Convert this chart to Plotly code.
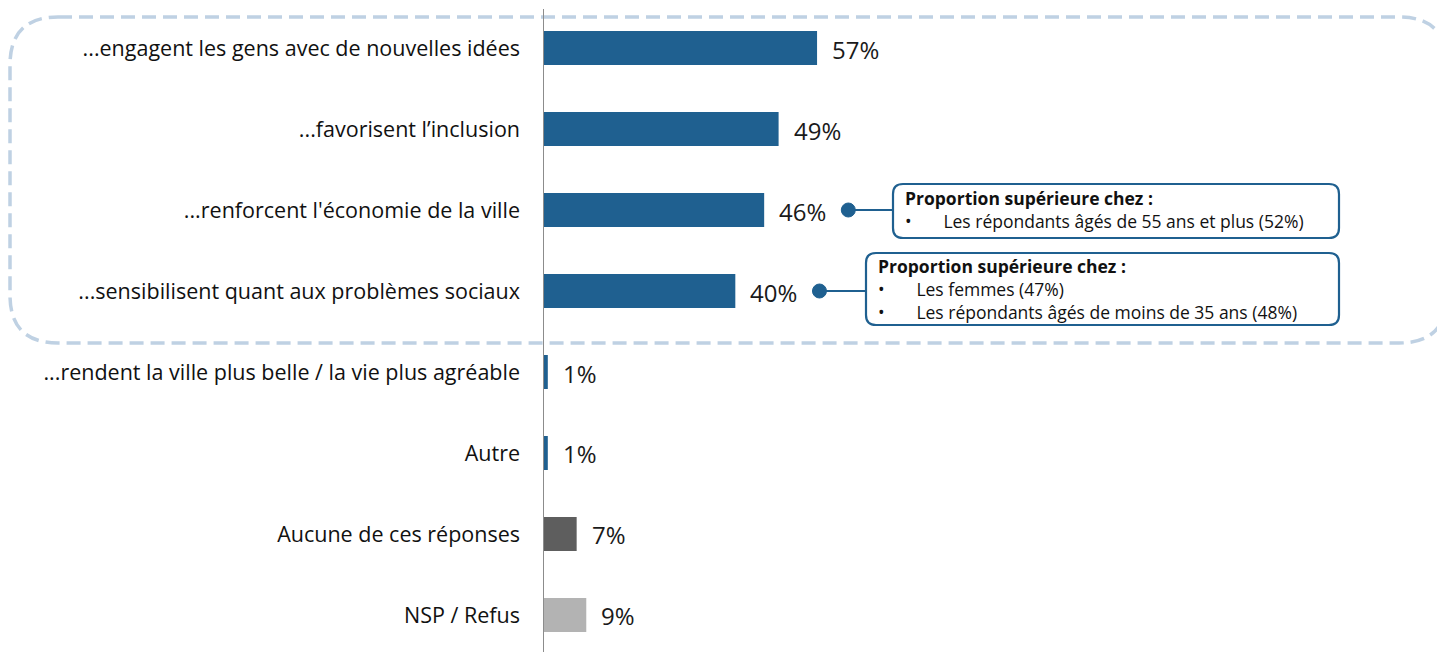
import plotly.graph_objects as go

categories = [
    "...engagent les gens avec de nouvelles idées",
    "...favorisent l’inclusion",
    "...renforcent l'économie de la ville",
    "...sensibilisent quant aux problèmes sociaux",
    "...rendent la ville plus belle / la vie plus agréable",
    "Autre",
    "Aucune de ces réponses",
    "NSP / Refus",
]
values = [57, 49, 46, 40, 1, 1, 7, 9]
colors = ["#1F6090"] * 6 + ["#5E5E5E", "#B3B3B3"]
value_labels = [f"{v}%" for v in values]

callout_title = "Proportion supérieure chez :"
callout1_items = ["Les répondants âgés de 55 ans et plus (52%)"]
callout2_items = ["Les femmes (47%)", "Les répondants âgés de moins de 35 ans (48%)"]

OFF = 8  # page body margin
W, H = 1445 - OFF, 652 - OFF
L = 543 - OFF
PW = W - L
XMAX = 187.6

def X(px):  # reference page pixel -> paper
    return (px - OFF - L) / PW

def Y(py):
    return 1 - (py - OFF) / H

BLUE = "#1F6090"
FONT = "Open Sans"

fig = go.Figure()
fig.add_trace(go.Bar(
    x=values, y=categories, orientation="h",
    marker=dict(color=colors, line=dict(width=0)),
    width=0.42, hoverinfo="skip",
))

annotations = []
for c, v, t in zip(categories, values, value_labels):
    annotations.append(dict(x=v, y=c, xref="x", yref="y", text=t, showarrow=False,
                            xanchor="left", xshift=13, yshift=-1,
                            font=dict(family=FONT, size=24, color="#1a1a1a")))

shapes = []
shapes.append(dict(type="line", xref="x", yref="paper", x0=0, x1=0, y0=0, y1=Y(9),
                   line=dict(color="#8C8C8C", width=2)))

def rounded(x0, y0, x1, y1, r):
    return (f"M {X(x0 + r)},{Y(y0)} L {X(x1 - r)},{Y(y0)} Q {X(x1)},{Y(y0)} {X(x1)},{Y(y0 + r)} "
            f"L {X(x1)},{Y(y1 - r)} Q {X(x1)},{Y(y1)} {X(x1 - r)},{Y(y1)} "
            f"L {X(x0 + r)},{Y(y1)} Q {X(x0)},{Y(y1)} {X(x0)},{Y(y1 - r)} "
            f"L {X(x0)},{Y(y0 + r)} Q {X(x0)},{Y(y0)} {X(x0 + r)},{Y(y0)} Z")

shapes.append(dict(type="path", xref="paper", yref="paper", path=rounded(10, 17, 1447, 343, 48),
                   line=dict(color="#BFD1E3", width=3.5, dash="14px,7px"), layer="below"))

callouts = [
    (2, 893, 184, 238, callout1_items),
    (3, 866, 253, 325, callout2_items),
]
NB = "&nbsp;" * 7
for idx, bx0, by0, by1, items in callouts:
    cat = categories[idx]
    dotx = values[idx] + 17.5
    shapes.append(dict(type="line", xref="x", yref="y", x0=dotx, x1=(bx0 - OFF - L) * XMAX / PW,
                       y0=cat, y1=cat, line=dict(color=BLUE, width=2)))
    shapes.append(dict(type="circle", xref="x", yref="y", xsizemode="pixel", ysizemode="pixel",
                       xanchor=dotx, yanchor=cat, x0=-7, x1=7, y0=-7, y1=7,
                       fillcolor=BLUE, line=dict(color=BLUE, width=1)))
    shapes.append(dict(type="path", xref="paper", yref="paper", path=rounded(bx0, by0, 1339, by1, 10),
                       fillcolor="white", line=dict(color=BLUE, width=2.2)))
    text = f"<b>{callout_title}</b>" + "".join(f"<br>•{NB}{it}" for it in items)
    nlines = 1 + len(items)
    ycenter = by0 + 14 + (nlines - 1) * 22 / 2
    annotations.append(dict(x=X(bx0 + 10), y=Y(ycenter), xref="paper", yref="paper", text=text,
                            showarrow=False, xanchor="left", yanchor="middle", align="left",
                            font=dict(family=FONT, size=17.5, color="#111111")))

fig.update_layout(
    width=W, height=H,
    margin=dict(l=L, r=0, t=0, b=0),
    plot_bgcolor="white", paper_bgcolor="white",
    showlegend=False,
    xaxis=dict(range=[0, XMAX], visible=False, fixedrange=True),
    yaxis=dict(range=[7.457, -0.494], showgrid=False, zeroline=False, showline=False,
               ticks="", ticklabelstandoff=22,
               tickfont=dict(family=FONT, size=21.5, color="#111111")),
    shapes=shapes,
    annotations=annotations,
    bargap=0.58,
)

fig.write_html("out.html")
